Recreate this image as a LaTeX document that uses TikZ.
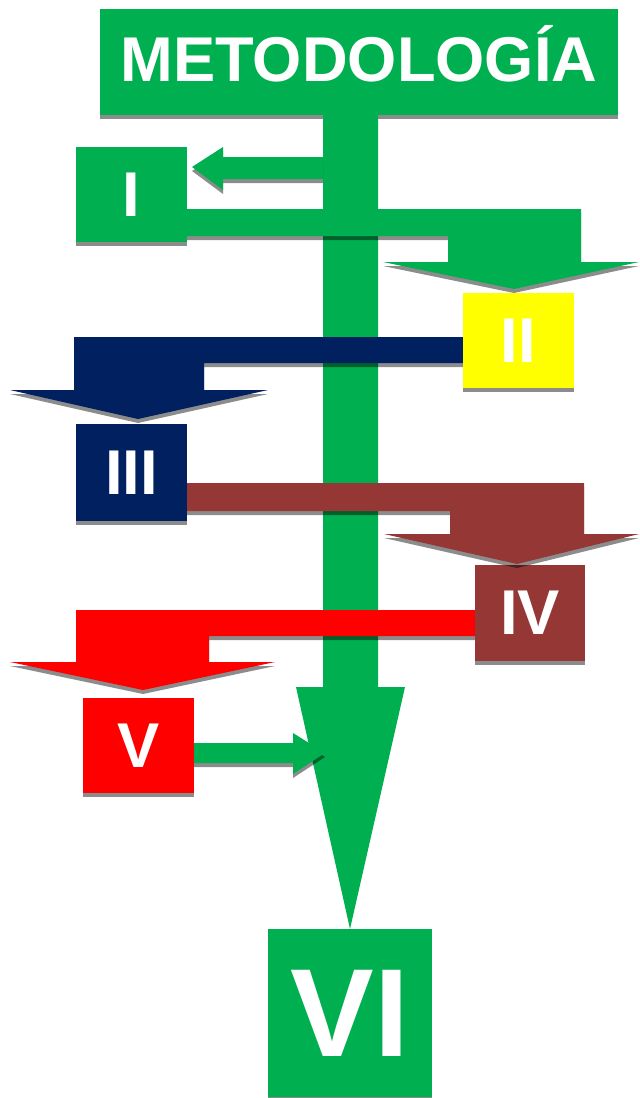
\documentclass[tikz,border=0pt]{standalone}
\usepackage{fontspec}
\setmainfont{Liberation Sans}
\usetikzlibrary{shadows}
\newlength\px \setlength\px{0.03cm}
\definecolor{mgreen}{HTML}{00B050}
\definecolor{mnavy}{HTML}{002060}
\definecolor{mbrown}{HTML}{953735}
\definecolor{myellow}{HTML}{FFFF00}
\definecolor{mred}{HTML}{FF0000}
\tikzset{
 shad/.style={drop shadow={shadow xshift=0pt,shadow yshift=-4\px,fill=black,opacity=.45}},
 stage/.style={inner sep=0pt,text=white,font=\bfseries\fontsize{54}{54}\selectfont,minimum width=111\px,minimum height=95\px,shad},
}
\begin{document}
\begin{tikzpicture}[x=\px,y=-\px,line cap=round]
\useasboundingbox (0,0) rectangle (639,1098);
\node[stage,fill=mgreen,minimum width=518\px,minimum height=106\px,text depth=17\px] (met) at (359,62) {METODOLOGÍA};
% main shaft
\fill[mgreen] (323,112) -- (378,112) -- (378,687) -- (405,687) -- (350,929) -- (296,687) -- (323,687) -- cycle;
\node[stage,fill=mgreen] (I) at (131.5,194.5) {I}; \node[stage,fill=myellow] (II) at (518.5,340.5) {II};
\node[stage,fill=mnavy,minimum height=97\px] (III) at (131.5,472.5) {III}; \node[stage,fill=mbrown,minimum width=110\px,minimum height=96\px] (IV) at (530,613) {IV};
\node[stage,fill=mred] (V) at (138.5,745.5) {V};
\node[stage,fill=mgreen,minimum width=164\px,minimum height=168\px,font=\bfseries\fontsize{107}{107}\selectfont,drop shadow={opacity=0}] (VI) at (350,1013) {VI};
% step arrows
\fill[mgreen,shad] (323,157) -- (223,157) -- (223,147) -- (192,167) -- (223,190) -- (223,179) -- (323,179) -- cycle;
\fill[mgreen,shad] (I.east|-0,209) -- (581,209) -- (581,262) -- (639,262) -- (514,289) -- (383,262) -- (448,262) -- (448,236) -- (I.east|-0,236) -- cycle;
\fill[mnavy,shad] (II.west|-0,337) -- (74,337) -- (74,390) -- (10,390) -- (138,419) -- (268,390) -- (204,390) -- (204,363) -- (II.west|-0,363) -- cycle;
\fill[mbrown,shad] (III.east|-0,483) -- (584,483) -- (584,534) -- (639,534) -- (517,564) -- (384,534) -- (450,534) -- (450,511) -- (III.east|-0,511) -- cycle;
\fill[mred,shad] (IV.west|-0,610) -- (76,610) -- (76,662) -- (10,662) -- (143,690) -- (275,662) -- (209,662) -- (209,636) -- (IV.west|-0,636) -- cycle;
\fill[mgreen,shad] (V.east|-0,743) -- (293,743) -- (293,733) -- (325,753) -- (293,774) -- (293,763) -- (V.east|-0,763) -- cycle;
\end{tikzpicture}
\end{document}
